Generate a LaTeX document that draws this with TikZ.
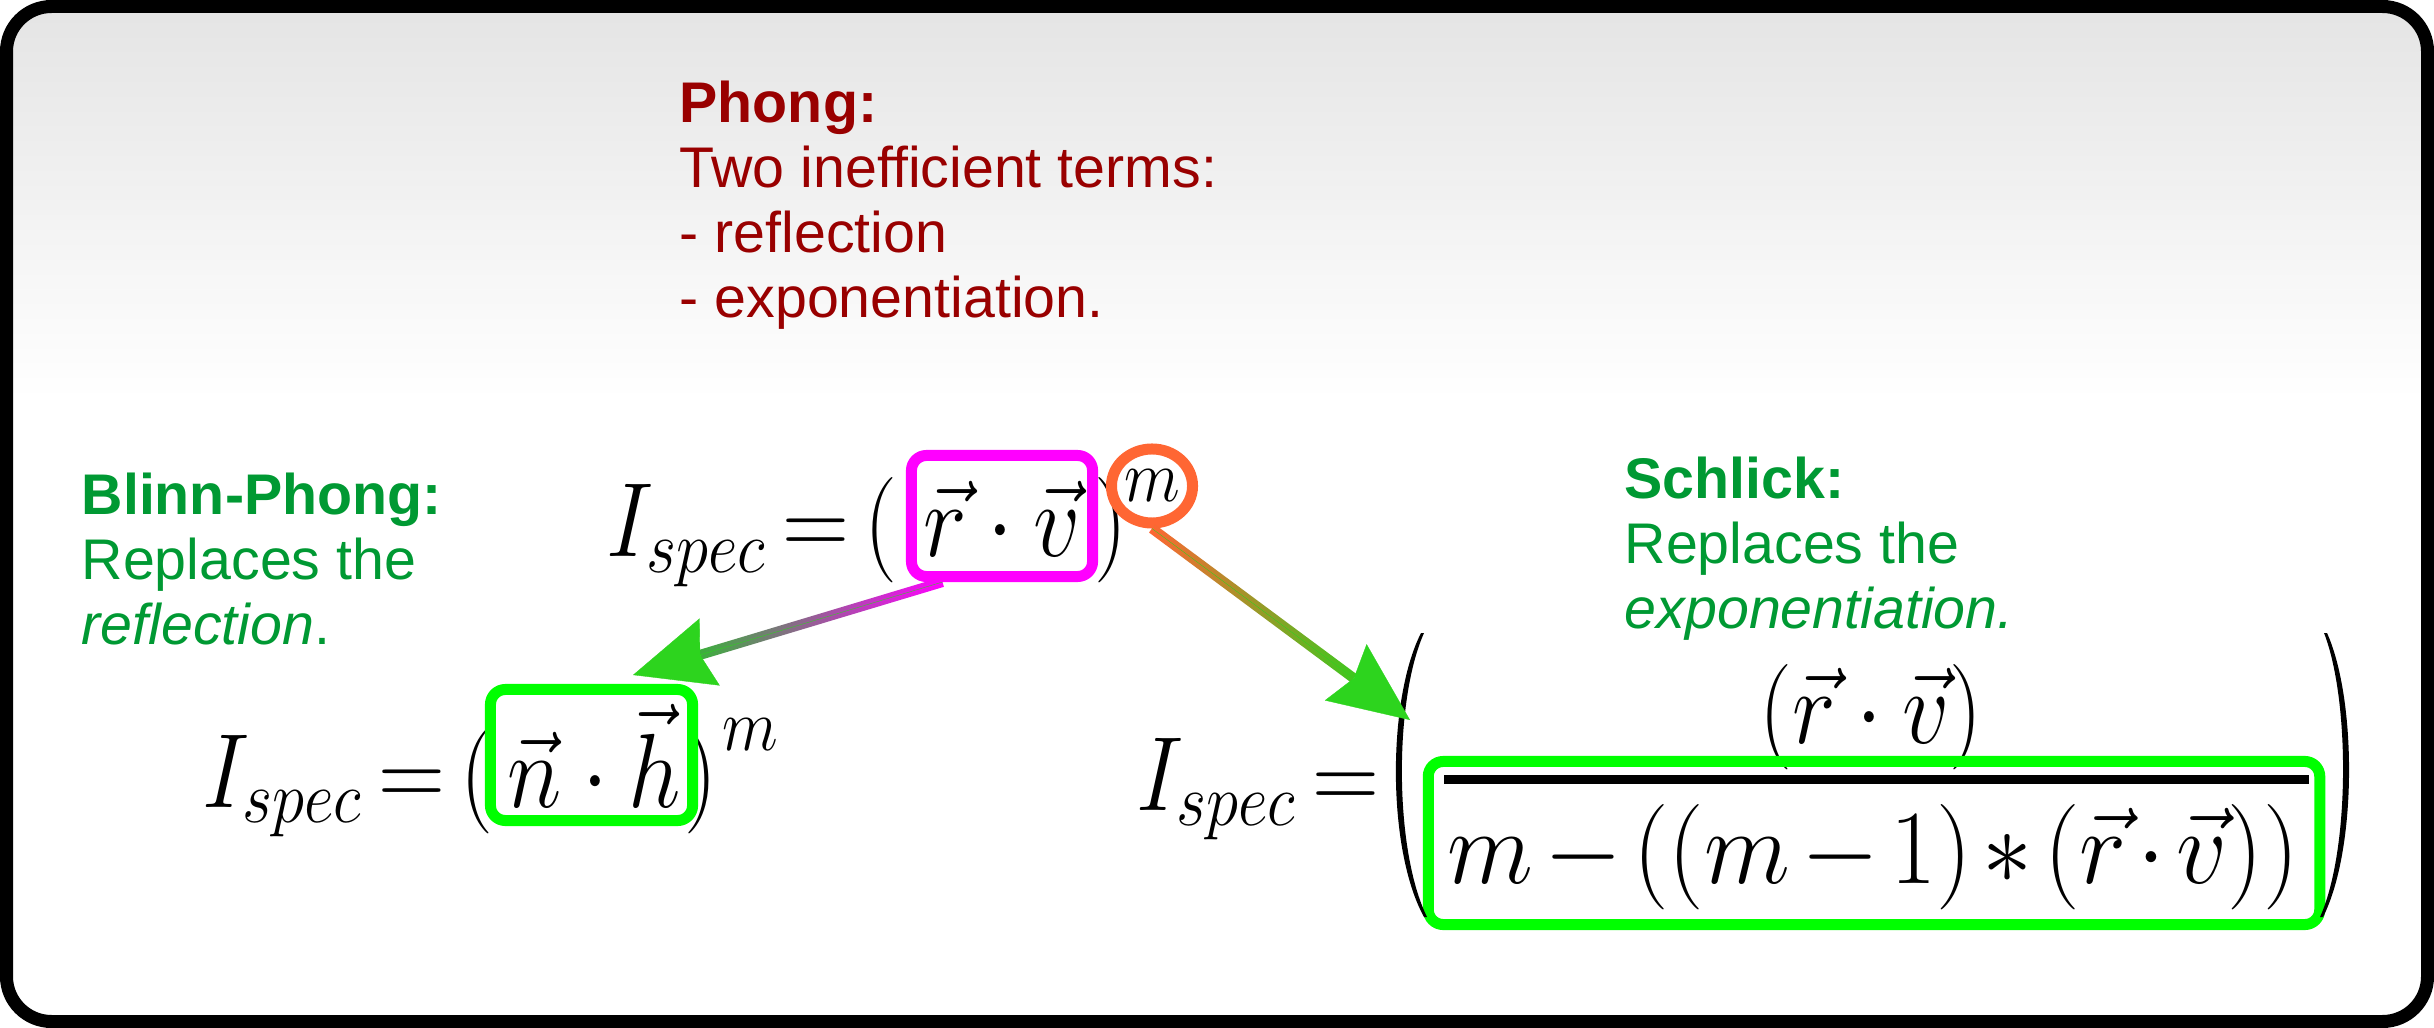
\RequirePackage{fix-cm}
\documentclass[tikz,border=0pt]{standalone}
\usepackage[no-math]{fontspec}
\newfontfamily\notefont{Liberation Sans}
\usepackage{tikz}
\usetikzlibrary{calc,shapes.geometric,arrows.meta}

\definecolor{phongred}{RGB}{153,0,0}
\definecolor{notegreen}{RGB}{0,153,51}
\definecolor{boxgreen}{RGB}{0,255,0}
\definecolor{boxmagenta}{RGB}{255,0,255}
\definecolor{exporange}{RGB}{255,102,51}
\definecolor{headgreen}{RGB}{45,212,30}
\definecolor{shaftgreenA}{RGB}{60,175,60}
\definecolor{shaftgreenB}{RGB}{60,200,30}
\definecolor{bgtop}{RGB}{228,228,228}

\newcommand{\cmath}[2][0.88]{\scalebox{#1}[1]{$#2$}}

\begin{document}
\begin{tikzpicture}[x=0.01cm, y=-0.01cm,
    notetext/.style={anchor=north west, inner sep=0pt, align=left, font=\notefont\fontsize{16.3}{18.5}\selectfont},
    eqn/.style={inner sep=0pt, font=\fontsize{30}{36}\selectfont},
    eqnsup/.style={inner sep=0pt, font=\fontsize{21}{25}\selectfont},
    markbox/.style={draw, rounded corners=0.15cm, line width=0.11cm, inner sep=0pt},
    headtip/.style={headgreen, line width=0.1pt, -{Stealth[length=0.8cm, width=0.7cm, inset=0.1cm]}}]
\useasboundingbox (0,0) rectangle (2434,1028);
\begin{scope}
    \clip[rounded corners=0.45cm] (6.5,6.5) rectangle (2427.5,1021.5);
    \fill[white] (0,0) rectangle (2434,1028);
    \shade[top color=bgtop, bottom color=white] (0,0) rectangle (2434,400);
\end{scope}
\draw[line width=0.13cm, rounded corners=0.45cm] (6.5,6.5) rectangle (2427.5,1021.5);

\node[notetext, text=phongred] (phong) at (679,80) {\textbf{Phong:}\\Two inefficient terms:\\- reflection\\- exponentiation.};
\node[notetext, text=notegreen] (blinn) at (81,472) {\textbf{Blinn-Phong:}\\Replaces the\\\textit{reflection}.};
\node[notetext, text=notegreen] (schlick) at (1624,456) {\textbf{Schlick:}\\Replaces the\\\textit{exponentiation.}};

\node[eqn, anchor=base east] (phL) at (898,557) {\cmath{I_{spec}\,{=}\,(}};
\node[eqn, anchor=base] (phM) at (1002,557) {\cmath{\vec r\cdot\vec v}};
\node[eqn, anchor=base west] (phR) at (1094,557) {\cmath{)}};
\node[markbox, draw=boxmagenta, minimum width=1.81cm, minimum height=1.21cm] (phBox) at (1002,516) {};
\node[eqnsup, ellipse, draw=exporange, line width=0.11cm, minimum width=0.81cm, minimum height=0.74cm] (phExp) at (1152,486) {\cmath{m}};

\node[eqn, anchor=base east] (bpL) at (494,807) {\cmath{I_{spec}\,{=}\,(}};
\node[eqn, anchor=base] (bpM) at (594,807) {\cmath{\vec n\cdot\vec h}};
\node[eqn, anchor=base west] (bpR) at (684,807) {\cmath{)}};
\node[eqnsup] (bpExp) at (750,735) {\cmath{m}};
\node[markbox, draw=boxgreen, minimum width=2.02cm, minimum height=1.31cm] (bpBox) at (591.5,755) {};

\node[eqn, anchor=base east] (scL) at (1380,810) {\cmath{I_{spec}\,{=}}};
\node[eqn, anchor=base] (scNum) at (1871,743) {\cmath{(\vec r\cdot\vec v)}};
\node[fill=black, inner sep=0pt, minimum width=8.65cm, minimum height=0.09cm] (scBar) at (1876.5,779) {};
\node[eqn, anchor=base] (scDen) at (1873,883) {\cmath[0.95]{\medmuskip=2mu m-((m-1)*(\vec r\cdot\vec v))}};
\node[markbox, draw=boxgreen, minimum width=8.91cm, minimum height=1.63cm] (scBox) at (1874,843) {};
\fill (1421,633) .. controls (1387,700) and (1387,850) .. (1424,917) -- (1427,917) .. controls (1394,850) and (1394,700) .. (1424,633) -- cycle;
\fill (2327,633) .. controls (2357,700) and (2357,850) .. (2323,917) -- (2320,917) .. controls (2350,850) and (2350,700) .. (2324,633) -- cycle;

\coordinate (phOut) at ($(phBox.south west)!0.19!(phBox.south east)$);
\coordinate (bpTip) at (633,675);
\coordinate (scTip) at (1410,720);
\coordinate (phMid) at ($(bpTip)!0.7cm!(phOut)$);
\coordinate (expMid) at ($(scTip)!0.7cm!(phExp.south)$);
\shade[left color=shaftgreenA, right color=boxmagenta] ($(phOut)!0.05cm!90:(phMid)$) -- ($(phMid)!0.05cm!-90:(phOut)$) -- ($(phMid)!0.05cm!90:(phOut)$) -- ($(phOut)!0.05cm!-90:(phMid)$) -- cycle;
\shade[left color=exporange, right color=shaftgreenB] ($(phExp.south)!0.05cm!90:(expMid)$) -- ($(expMid)!0.05cm!-90:(phExp.south)$) -- ($(expMid)!0.05cm!90:(phExp.south)$) -- ($(phExp.south)!0.05cm!-90:(expMid)$) -- cycle;
\draw[headtip] (phOut) -- (bpTip);
\draw[headtip] (phExp.south) -- (scTip);
\end{tikzpicture}
\end{document}
